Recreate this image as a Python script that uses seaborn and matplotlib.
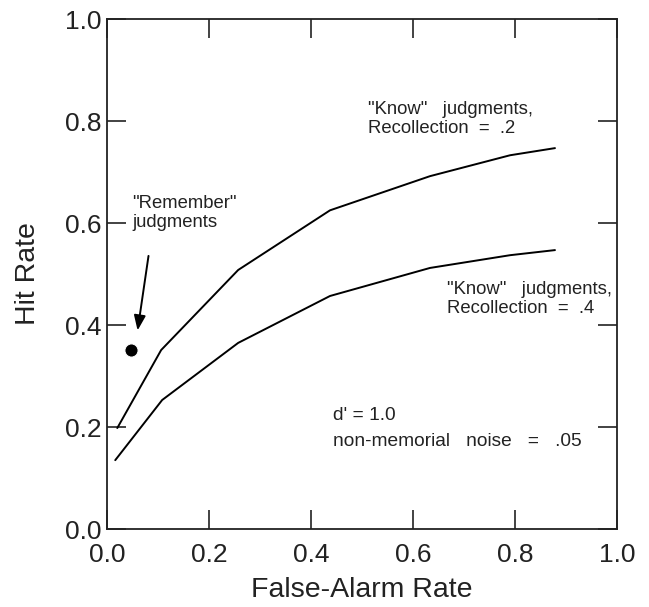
import matplotlib
matplotlib.use("Agg")
import matplotlib.pyplot as plt
import seaborn as sns
import pandas as pd

# Data
fa_rate = [0.02, 0.106, 0.257, 0.437, 0.633, 0.79, 0.878]
hit_rec2 = [0.198, 0.351, 0.508, 0.625, 0.692, 0.733, 0.747]
fa_rate_low = [0.016, 0.108, 0.257, 0.437, 0.633, 0.79, 0.878]
hit_rec4 = [0.135, 0.253, 0.365, 0.457, 0.512, 0.537, 0.547]
remember_fa = [0.047]
remember_hit = [0.351]

sns.set_style("ticks")
plt.rcParams['font.family'] = ['Liberation Sans', 'DejaVu Sans']

fig = plt.figure(figsize=(6.49, 6.07), dpi=100)
ax = fig.add_axes([0.165, 0.1285, 0.786, 0.840])

df1 = pd.DataFrame({"fa": fa_rate, "hit": hit_rec2})
df2 = pd.DataFrame({"fa": fa_rate_low, "hit": hit_rec4})
sns.lineplot(data=df1, x="fa", y="hit", sort=False, color="black", lw=1.4, ax=ax)
sns.lineplot(data=df2, x="fa", y="hit", sort=False, color="black", lw=1.4, ax=ax)
sns.scatterplot(x=remember_fa, y=remember_hit, color="black", s=90, ax=ax, zorder=5)

ax.set_xlim(0, 1)
ax.set_ylim(0, 1)
ticks = [0.0, 0.2, 0.4, 0.6, 0.8, 1.0]
ax.set_xticks(ticks)
ax.set_yticks(ticks)
ax.set_xticklabels([f"{t:.1f}" for t in ticks])
ax.set_yticklabels([f"{t:.1f}" for t in ticks])
ax.tick_params(direction="in", length=14, width=1.2, labelsize=19, top=True, right=True,
               colors="#222222")
ax.tick_params(axis="x", pad=10)
ax.tick_params(axis="y", pad=4)
for s in ax.spines.values():
    s.set_visible(True)
    s.set_linewidth(1.3)
    s.set_color("#222222")

ax.set_xlabel("False-Alarm Rate", fontsize=20.5, color="#222222")
ax.set_ylabel("Hit Rate", fontsize=20.5, color="#222222")
ax.xaxis.set_label_coords(0.5, -0.094)
ax.yaxis.set_label_coords(-0.13, 0.5)

fs = 13.3
tc = "#222222"
def line(x, y, s, size=fs):
    ax.text(x, y, s, fontsize=size, va="center", ha="left", color=tc)

line(0.049, 0.639, '"Remember"')
line(0.049, 0.602, 'judgments')
ax.annotate("", xy=(0.059, 0.384), xytext=(0.082, 0.541),
            arrowprops=dict(arrowstyle="-|>,head_length=0.9,head_width=0.35", color="black", lw=1.4))
line(0.512, 0.822, '"Know"   judgments,')
line(0.512, 0.786, 'Recollection  =  .2')
line(0.667, 0.469, '"Know"   judgments,')
line(0.667, 0.433, 'Recollection  =  .4')
line(0.443, 0.2235, "d' = 1.0", size=13.8)
line(0.443, 0.171, "non-memorial   noise   =   .05", size=13.8)

fig.savefig("out.png", dpi=100)
